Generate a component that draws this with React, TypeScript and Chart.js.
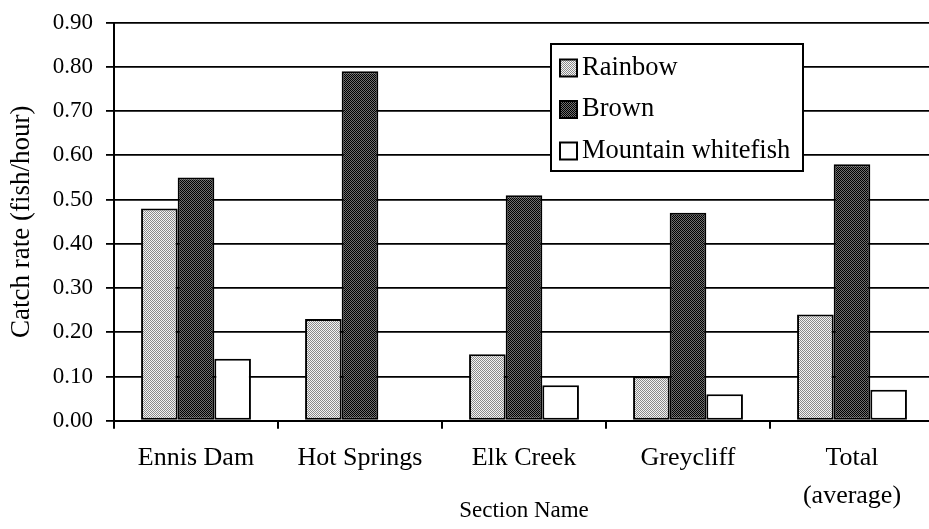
import React, { useEffect, useRef } from "react";
import { Chart, registerables } from "chart.js";
Chart.register(...registerables);

const categories: (string | string[])[] = ["Ennis Dam", "Hot Springs", "Elk Creek", "Greycliff", ["Total", "(average)"]];
const seriesNames = ["Rainbow", "Brown", "Mountain whitefish"];
const rainbow = [0.48, 0.23, 0.15, 0.1, 0.24];
const brown = [0.55, 0.79, 0.51, 0.47, 0.58];
const whitefish = [0.14, 0, 0.08, 0.06, 0.07];
const yMin = 0;
const yMax = 0.9;
const yStep = 0.1;
const xTitle = "Section Name";
const yTitle = "Catch rate (fish/hour)";

const FAMILY = "'Liberation Serif', 'Times New Roman', serif";

function makePattern(dot: string, bg: string): CanvasPattern | string {
  const c = document.createElement("canvas");
  c.width = 2;
  c.height = 2;
  const g = c.getContext("2d");
  if (!g) return bg;
  g.fillStyle = bg;
  g.fillRect(0, 0, 2, 2);
  g.fillStyle = dot;
  g.fillRect(0, 0, 1, 1);
  g.fillRect(1, 1, 1, 1);
  return g.createPattern(c, "repeat") || bg;
}

const boxLegend = {
  id: "boxLegend",
  afterDraw(chart: any) {
    const ctx = chart.ctx as CanvasRenderingContext2D;
    ctx.save();
    const x = 551, y = 44, w = 252, h = 127;
    ctx.fillStyle = "#fff";
    ctx.fillRect(x, y, w, h);
    ctx.lineWidth = 2;
    ctx.strokeStyle = "#000";
    ctx.strokeRect(x, y, w, h);
    chart.data.datasets.forEach((ds: any, i: number) => {
      const cy = 68 + i * 41.5;
      ctx.fillStyle = ds.backgroundColor;
      ctx.fillRect(560, cy - 8.5, 17, 17);
      ctx.lineWidth = 2;
      ctx.strokeStyle = "#000";
      ctx.strokeRect(560, cy - 8.5, 17, 17);
      ctx.fillStyle = "#000";
      ctx.font = `26.5px ${FAMILY}`;
      ctx.textBaseline = "middle";
      ctx.textAlign = "left";
      ctx.fillText(ds.label, 582, cy);
    });
    ctx.restore();
  },
};

export default function App() {
  const ref = useRef<HTMLCanvasElement | null>(null);
  useEffect(() => {
    if (!ref.current) return;
    const rainbowFill = makePattern("#8a8a8a", "#f4f4f4");
    const brownFill = makePattern("#000000", "#707070");
    const common = {
      borderColor: "#000",
      borderWidth: 2,
      borderSkipped: false,
      categoryPercentage: 0.67,
      barPercentage: 1.0,
    };
    const chart = new Chart(ref.current, {
      type: "bar",
      data: {
        labels: categories as any,
        datasets: [
          { label: seriesNames[0], data: rainbow, backgroundColor: rainbowFill as any, ...common },
          { label: seriesNames[1], data: brown, backgroundColor: brownFill as any, ...common },
          { label: seriesNames[2], data: whitefish, backgroundColor: "#ffffff", ...common },
        ],
      },
      options: {
        responsive: false,
        animation: false,
        layout: { padding: { top: 22.7, left: 0, right: 0, bottom: 0 } },
        plugins: { legend: { display: false }, tooltip: { enabled: false } },
        scales: {
          x: {
            grid: { display: true, drawOnChartArea: false, drawTicks: true, tickLength: 8, color: "#000", lineWidth: 2, offset: true },
            border: { display: true, color: "#000", width: 2 },
            ticks: { color: "#000", font: { family: FAMILY, size: 26, lineHeight: 1.45 }, padding: 11, maxRotation: 0, autoSkip: false },
            title: { display: true, text: xTitle, color: "#000", font: { family: FAMILY, size: 23, lineHeight: 1.2 }, padding: { top: 0, bottom: 4 } },
            afterFit: (s: any) => { s.height = 108.3; },
          },
          y: {
            min: yMin,
            max: yMax,
            ticks: { stepSize: yStep, color: "#000", font: { family: FAMILY, size: 23, lineHeight: 0.8 }, padding: 13, callback: (v: any) => Number(v).toFixed(2) },
            grid: { color: "#000", lineWidth: 1.8, tickLength: 8 },
            border: { color: "#000", width: 2 },
            title: { display: true, text: yTitle, color: "#000", font: { family: FAMILY, size: 27, lineHeight: 1.2 }, padding: { top: 6, bottom: 0 } },
            afterFit: (s: any) => { s.width = 114; },
          },
        },
      } as any,
      plugins: [boxLegend],
    });
    return () => chart.destroy();
  }, []);
  return (
    <div style={{ position: "absolute", left: 0, top: 0, width: 929, height: 529, overflow: "hidden", background: "#fff" }}>
      <canvas ref={ref} width={934} height={529} style={{ display: "block", width: 934, height: 529 }} />
    </div>
  );
}
